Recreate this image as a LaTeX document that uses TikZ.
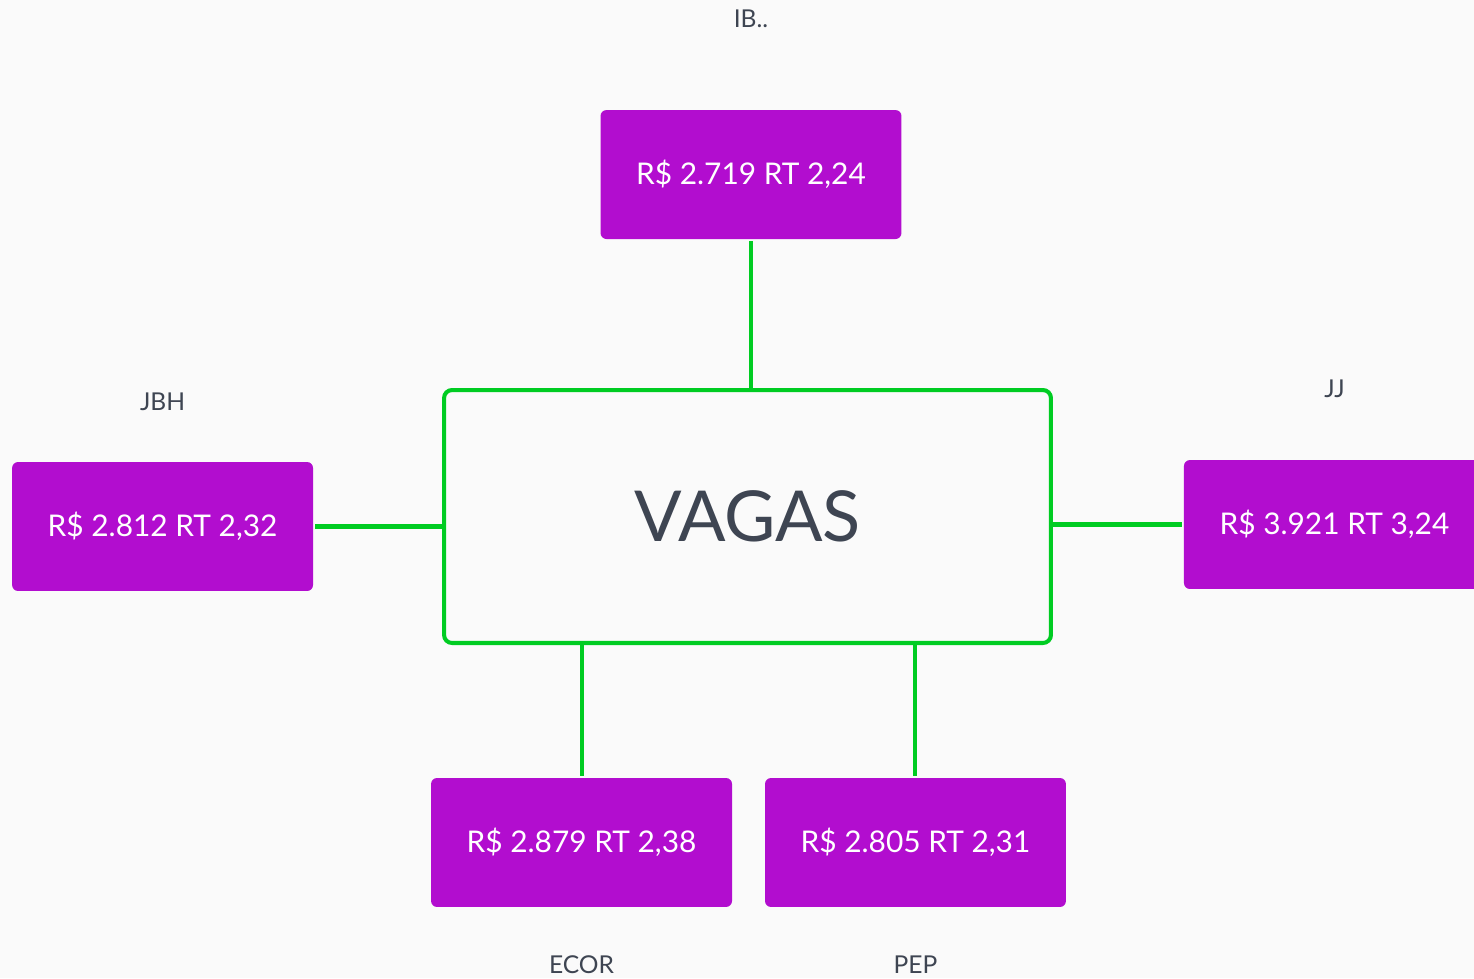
\documentclass[tikz,border=0pt]{standalone}
\usepackage{fontspec}
\setmainfont{Lato}
\usetikzlibrary{positioning}
\definecolor{roxo}{RGB}{178,13,207}
\definecolor{verde}{RGB}{0,204,34}
\definecolor{fundo}{RGB}{250,250,250}
\definecolor{cinza}{RGB}{62,69,82}

\begin{document}
\begin{tikzpicture} [x=0.02cm,y=-0.02cm,line width=2.3pt,
  box/.style={rectangle,rounded corners=0.12cm,fill=roxo,text=white,minimum width=6.02cm,minimum height=2.58cm,font=\fontsize{17}{20}\selectfont},
  main/.style={rectangle,rounded corners=0.16cm,draw=verde,fill=fundo,text=cinza,minimum width=12.14cm,minimum height=5.06cm,font=\fontsize{40}{48}\selectfont},
  tag/.style={inner sep=0pt,text=cinza,font=\fontsize{14}{16}\selectfont}]
  \fill[fundo] (0,0) rectangle (1474,978);
  \useasboundingbox (0,0) rectangle (1474,978);

  \node[main] (0) at (747.5,516.5) {VAGAS};
  \node[box] (1) [above=2.94cm of 0,xshift=0.07cm] {R\$ 2.719 RT 2,24};
  \node[box] (2) [left=2.54cm of 0,yshift=-0.2cm] {R\$ 2.812 RT 2,32};
  \node[box] (3) [right=2.58cm of 0,yshift=-0.16cm] {R\$ 3.921 RT 3,24};
  \node[box] (4) [below=2.62cm of 0,xshift=-3.32cm] {R\$ 2.879 RT 2,38};
  \node[box] (5) [below=2.62cm of 0,xshift=3.36cm] {R\$ 2.805 RT 2,31};

  \node[tag] (t1) [above=1.56cm of 1] {IB..};
  \node[tag] (t2) [above=0.94cm of 2] {JBH};
  \node[tag] (t3) [above=1.16cm of 3] {JJ};
  \node[tag] (t4) [below=0.9cm of 4] {ECOR};
  \node[tag] (t5) [below=0.9cm of 5] {PEP};

  \draw[verde]
    (1.south) -- (1.south |- 0.north)
    (2.east) -- (2.east -| 0.west)
    (3.west) -- (3.west -| 0.east)
    (4.north) -- (4.north |- 0.south)
    (5.north) -- (5.north |- 0.south);
\end{tikzpicture}
\end{document}
